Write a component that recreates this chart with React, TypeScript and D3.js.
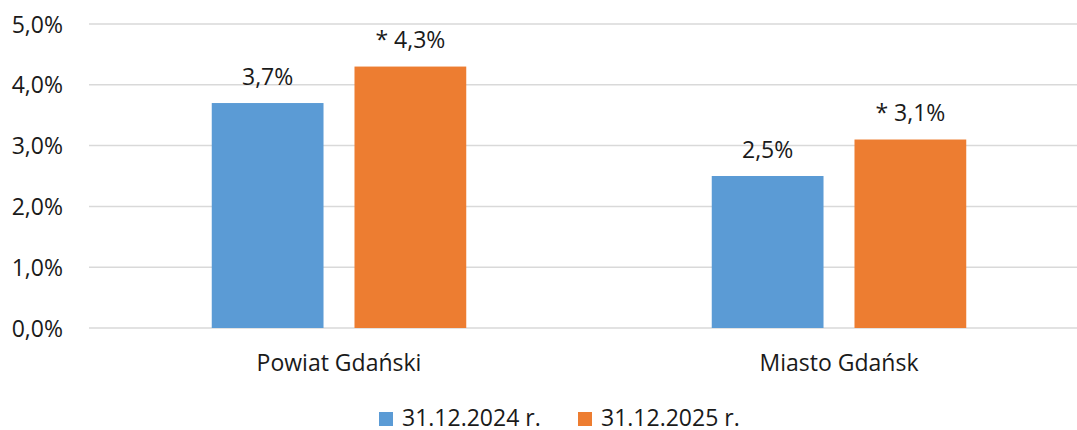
import React from "react";
import * as d3 from "d3";

const categories = ["Powiat Gdański", "Miasto Gdańsk"];
const seriesNames = ["31.12.2024 r.", "31.12.2025 r."];
const values2024 = [3.7, 2.5];
const values2025 = [4.3, 3.1];
const labels2024 = ["3,7%", "2,5%"];
const labels2025 = ["* 4,3%", "* 3,1%"];
const yTicks = [0, 1, 2, 3, 4, 5];
const colors = ["#5B9BD5", "#ED7D31"];

const W = 1077;
const H = 430;
const FONT = "'Open Sans', sans-serif";
const FS = 23;

export default function App() {
  const x0 = 89;
  const x1 = 1089;
  const y = d3.scaleLinear().domain([0, 5]).range([328, 24]);
  const xBand = d3.scaleBand<string>().domain(categories).range([x0, x1]).paddingInner(0).paddingOuter(0);
  const xSub = d3.scaleBand<string>().domain(seriesNames).range([0, xBand.bandwidth()]).paddingInner(0.217).paddingOuter(0.86);
  const series = [values2024, values2025];
  const labels = [labels2024, labels2025];
  const fmt = (v: number) => v.toFixed(1).replace(".", ",") + "%";

  return (
    <svg width={W} height={H} style={{ position: "absolute", left: 0, top: 0, background: "#fff" }}>
      {yTicks.map((t) => (
        <g key={t}>
          <line x1={x0} x2={W} y1={y(t)} y2={y(t)} stroke="#D9D9D9" strokeWidth={1.5} />
          <text x={63} y={y(t) + 8.5} textAnchor="end" fontFamily={FONT} fontSize={FS} fill="#1a1a1a">
            {fmt(t)}
          </text>
        </g>
      ))}
      {categories.map((c, ci) => (
        <g key={c}>
          {series.map((vals, si) => {
            const bx = (xBand(c) as number) + (xSub(seriesNames[si]) as number);
            const bw = xSub.bandwidth();
            return (
              <g key={si}>
                <rect x={bx} y={y(vals[ci])} width={bw} height={y(0) - y(vals[ci])} fill={colors[si]} />
                <text x={bx + bw / 2} y={y(vals[ci]) - 18.5} textAnchor="middle" fontFamily={FONT} fontSize={FS} fill="#1a1a1a">
                  {labels[si][ci]}
                </text>
              </g>
            );
          })}
          <text x={(xBand(c) as number) + xBand.bandwidth() / 2} y={370.5} textAnchor="middle" fontFamily={FONT} fontSize={FS} fill="#1a1a1a">
            {c}
          </text>
        </g>
      ))}
      {seriesNames.map((s, i) => {
        const lx = [379, 578][i];
        return (
          <g key={s}>
            <rect x={lx} y={412} width={14} height={14} fill={colors[i]} />
            <text x={lx + 23} y={425.5} fontFamily={FONT} fontSize={FS} fill="#1a1a1a">
              {s}
            </text>
          </g>
        );
      })}
    </svg>
  );
}
